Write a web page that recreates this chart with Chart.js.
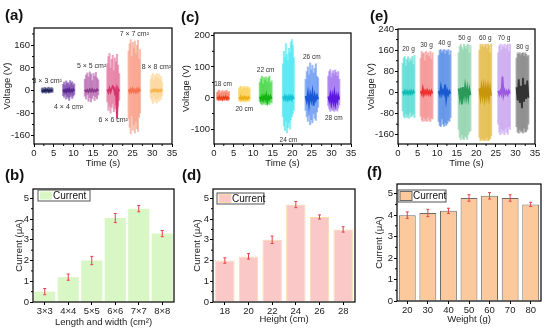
<!DOCTYPE html>
<html>
<head>
<meta charset="utf-8">
<script src="https://cdn.jsdelivr.net/npm/chart.js@4.4.1/dist/chart.umd.min.js"></script>
<style>
  body { margin: 0; background: #fff; }
  #fig { position: relative; width: 550px; height: 332px; overflow: hidden; font-family: "Liberation Sans", Arial, sans-serif; }
  canvas { position: absolute; }
  .tag { position: absolute; font-weight: bold; font-size: 15px; line-height: 15px; color: #111; }
</style>
</head>
<body>
<div id="fig">
  <canvas id="pa"></canvas>
  <canvas id="pc"></canvas>
  <canvas id="pe"></canvas>
  <canvas id="pb"></canvas>
  <canvas id="pd"></canvas>
  <canvas id="pf"></canvas>
  <div class="tag" style="left:5px;top:7px">(a)</div>
  <div class="tag" style="left:181px;top:9px">(c)</div>
  <div class="tag" style="left:370px;top:8px">(e)</div>
  <div class="tag" style="left:5px;top:167px">(b)</div>
  <div class="tag" style="left:182px;top:167px">(d)</div>
  <div class="tag" style="left:367px;top:164px">(f)</div>
</div>
<script>
// ---- (a) voltage bursts vs. size ----
const sizeNames = ['3 × 3 cm²', '4 × 4 cm²', '5 × 5 cm²', '6 × 6 cm²', '7 × 7 cm²', '8 × 8 cm²'];
const sizeStart = [2.0, 7.4, 12.9, 18.6, 24.0, 29.6];
const sizeEnd = [4.7, 10.2, 16.3, 21.6, 26.9, 32.5];
const sizeHigh = [
  [8, 10, 6, 11, 9, 7, 10, 12, 8, 9, 11, 7],
  [22, 30, 18, 34, 25, 28, 20, 35, 26, 31, 19, 24],
  [40, 55, 62, 48, 66, 58, 35, 60, 50, 64, 45, 38],
  [95, 120, 131, 80, 110, 125, 70, 115, 100, 128, 90, 60],
  [140, 165, 180, 120, 170, 150, 175, 130, 160, 178, 110, 145],
  [40, 52, 61, 35, 55, 48, 60, 44, 58, 38, 50, 30]
];
const sizeLow = [
  [-6, -9, -5, -8, -10, -7, -6, -9, -8, -5, -7, -6],
  [-18, -24, -14, -30, -20, -26, -35, -22, -16, -28, -20, -15],
  [-20, -30, -15, -38, -25, -40, -28, -18, -35, -22, -30, -16],
  [-40, -70, -55, -80, -60, -45, -75, -65, -50, -80, -55, -35],
  [-100, -130, -153, -90, -140, -120, -150, -110, -135, -145, -95, -80],
  [-25, -35, -46, -20, -40, -30, -44, -28, -38, -22, -32, -18]
];
const sizeCore = [
  [2, -3, 1, -2, 3, -1, 2, -3, 1, -2, 2, -1],
  [3, -4, 2, -5, 4, -3, 5, -4, 2, -3, 4, -2],
  [3, -4, 2, -5, 4, -3, 5, -4, 2, -3, 4, -2],
  [4, -6, 8, -5, 6, 15, 10, -8, 5, -100, 6, -3],
  [4, -6, 5, -4, 6, -5, 3, -6, 5, -4, 6, -3],
  [3, -4, 2, -3, 4, -2, 3, -4, 2, -3, 3, -2]
];

// ---- (c) voltage bursts vs. height ----
const heightNames = ['18 cm', '20 cm', '22 cm', '24 cm', '26 cm', '28 cm'];
const heightStart = [0.8, 6.4, 11.7, 17.6, 23.4, 29.2];
const heightEnd = [3.8, 9.1, 14.7, 20.4, 26.6, 32.0];
const heightHigh = [
  [18, 22, 25, 15, 20, 24, 17, 23, 19, 25, 16, 21],
  [30, 35, 38, 28, 36, 32, 38, 30, 34, 37, 29, 33],
  [50, 62, 70, 45, 66, 58, 68, 52, 64, 70, 48, 55],
  [110, 150, 130, 175, 140, 120, 160, 145, 180, 188, 170, 130],
  [60, 85, 100, 75, 113, 90, 105, 80, 95, 110, 70, 65],
  [70, 85, 91, 65, 80, 88, 75, 90, 82, 70, 85, 60]
];
const heightLow = [
  [-6, -8, -9, -5, -7, -9, -6, -8, -5, -7, -9, -6],
  [-8, -11, -13, -7, -10, -12, -9, -13, -8, -11, -10, -7],
  [-12, -18, -22, -10, -20, -15, -22, -14, -19, -21, -13, -16],
  [-60, -90, -105, -75, -112, -95, -80, -100, -70, -60, -50, -40],
  [-40, -60, -75, -55, -86, -70, -80, -50, -65, -72, -45, -30],
  [-25, -35, -43, -30, -40, -38, -43, -28, -36, -42, -32, -22]
];
const heightCore = [
  [3, -2, 4, -3, 2, -4, 3, -2, 4, -3, 2, -3],
  [3, -3, 2, -4, 3, -2, 4, -3, 2, -3, 3, -2],
  [4, -6, 5, -8, 6, -4, 10, -12, 5, -4, 6, -3],
  [5, -4, 6, -5, 4, -6, 5, -4, 6, -5, 4, -3],
  [6, -10, 15, -20, 12, -8, 18, -25, 10, -6, 8, -4],
  [5, -8, 10, -15, 8, -12, 14, -18, 6, -10, 8, -5]
];

// ---- (e) voltage bursts vs. weight ----
const weightNames = ['20 g', '30 g', '40 g', '50 g', '60 g', '70 g', '80 g'];
const weightStart = [1.2, 5.8, 10.4, 15.5, 20.8, 25.6, 30.3];
const weightEnd = [4.2, 8.8, 13.4, 18.5, 23.8, 28.6, 33.3];
const weightHigh = [
  [110, 130, 136, 100, 125, 135, 115, 128, 120, 136, 105, 140],
  [130, 155, 145, 150, 120, 155, 140, 150, 135, 155, 125, 150],
  [140, 160, 162, 150, 158, 162, 145, 160, 155, 162, 140, 158],
  [150, 175, 183, 170, 160, 183, 175, 165, 180, 183, 150, 178],
  [160, 183, 175, 183, 170, 180, 183, 165, 183, 178, 150, 183],
  [150, 175, 183, 160, 180, 170, 183, 165, 178, 183, 155, 183],
  [130, 150, 145, 150, 140, 148, 150, 138, 150, 145, 135, 140]
];
const weightLow = [
  [-70, -90, -97, -80, -95, -85, -97, -75, -92, -88, -80, -95],
  [-90, -105, -110, -95, -108, -100, -110, -92, -105, -110, -98, -100],
  [-110, -125, -129, -100, -120, -128, -115, -125, -118, -105, -110, -95],
  [-140, -170, -179, -160, -175, -179, -165, -170, -178, -160, -150, -145],
  [-170, -183, -180, -175, -183, -178, -182, -170, -183, -180, -175, -165],
  [-120, -150, -160, -140, -155, -145, -160, -135, -150, -158, -130, -140],
  [-130, -150, -154, -140, -150, -145, -154, -135, -150, -148, -140, -120]
];
const weightCore = [
  [4, -5, 6, -4, 5, -6, 4, -5, 6, -4, 5, -3],
  [5, -6, 15, -8, 6, -5, 8, -6, 5, -7, 6, -4],
  [5, -8, 20, -6, 8, -5, 30, -25, 6, -8, 5, -4],
  [15, -20, 18, -45, 20, -15, 22, -18, 15, -20, 12, -10],
  [15, -18, 20, -15, 22, -20, 18, -15, 20, -18, 15, -12],
  [6, -8, 5, -6, 60, -10, 8, -6, 5, -8, 6, -4],
  [20, -30, 50, -40, 25, -60, 55, -35, 30, -25, 45, -20]
];

// ---- (b) (d) (f) current bars ----
const lengthCats = ['3×3', '4×4', '5×5', '6×6', '7×7', '8×8'];
const lengthCurrent = [0.5, 1.2, 2.0, 4.05, 4.5, 3.3];
const lengthErr = [0.15, 0.15, 0.2, 0.22, 0.15, 0.15];

const heightCats = ['18', '20', '22', '24', '26', '28'];
const heightCurrent = [2.0, 2.2, 3.0, 4.7, 4.1, 3.5];
const heightErr = [0.13, 0.13, 0.18, 0.15, 0.1, 0.13];

const weightCats = ['20', '30', '40', '50', '60', '70', '80'];
const weightCurrent = [4.0, 4.1, 4.2, 4.8, 4.9, 4.8, 4.5];
const weightErr = [0.15, 0.17, 0.12, 0.15, 0.15, 0.15, 0.1];

// ---- styles ----
const FONT = '"Liberation Sans", Arial, sans-serif';
Chart.defaults.font.family = FONT;
Chart.defaults.font.size = 9.5;
Chart.defaults.color = '#222';
Chart.defaults.animation = false;
Chart.defaults.responsive = false;
Chart.defaults.events = [];

const sizeSpike = ['#4a4a86', '#7c46ad', '#b462ad', '#e2749c', '#f89c84', '#fcd594'];
const sizeDark = ['#24245c', '#56278c', '#8c3a8a', '#d6336c', '#f5734e', '#f6b64c'];
const sizeSide = ['up', 'down', 'up', 'down', 'up', 'up'];
const heightSpike = ['#f4775a', '#f9d155', '#3cd63c', '#48e6f2', '#6294f2', '#9e70f0'];
const heightDark = ['#e8401a', '#eeb01a', '#14b414', '#14c4d6', '#1a58d6', '#5a18e0'];
const heightSide = ['up', 'down', 'up', 'down', 'up', 'down'];
const weightSpike = ['#50dad2', '#f48c8c', '#5289e6', '#8cd2aa', '#e2b842', '#c7a2f0', '#808080'];
const weightDark = ['#10bcb4', '#ee3030', '#1a5ad0', '#2a9a5a', '#c8960a', '#9a5ae0', '#333333'];

function place(id, box) {
  const c = document.getElementById(id);
  c.width = box.w; c.height = box.h;
  c.style.left = box.x + 'px'; c.style.top = box.y + 'px';
  c.style.width = box.w + 'px'; c.style.height = box.h + 'px';
  return c;
}

const tickGrid = { drawOnChartArea: false, drawTicks: true, tickLength: 3, tickColor: '#000', tickWidth: 1, color: '#000', offset: false };

function yAxis(min, max, step, yW, text, pad) {
  return {
    type: 'linear', min: min, max: max,
    afterFit: s => { s.width = yW; },
    border: { display: false },
    grid: tickGrid,
    ticks: { stepSize: step, includeBounds: false, padding: 1 },
    title: { display: true, text: text, padding: { top: pad, bottom: 0 } }
  };
}

function timeAxis(xH, pad) {
  return {
    type: 'linear', min: 0, max: 35, offset: false,
    afterFit: s => { s.height = xH; },
    border: { display: false },
    grid: tickGrid,
    ticks: { stepSize: 5, padding: 1, maxRotation: 0, autoSkip: false, includeBounds: false },
    title: { display: true, text: 'Time (s)', padding: { top: 0, bottom: pad } }
  };
}

// black frame around the plot, plus minor ticks on linear axes
const frame = {
  id: 'frame',
  afterDraw(chart) {
    const { ctx, chartArea: a } = chart;
    ctx.save();
    ctx.strokeStyle = '#000';
    ctx.lineWidth = 1.2;
    ctx.strokeRect(a.left, a.top, a.right - a.left, a.bottom - a.top);
    ctx.lineWidth = 1;
    ctx.beginPath();
    Object.values(chart.scales).forEach(s => {
      if (s.type !== 'linear' || s.ticks.length < 2) return;
      const step = s.ticks[1].value - s.ticks[0].value;
      for (let v = s.ticks[0].value - step / 2; v <= s.max; v += step) {
        if (v < s.min) continue;
        const p = s.getPixelForValue(v);
        if (s.axis === 'x') { ctx.moveTo(p, a.bottom); ctx.lineTo(p, a.bottom + 2); }
        else { ctx.moveTo(a.left - 2, p); ctx.lineTo(a.left, p); }
      }
    });
    ctx.stroke();
    ctx.restore();
  }
};

function burstData(start, end, high, low, core, spike, dark) {
  const sets = [];
  high.forEach((hi, k) => {
    const n = hi.length;
    const tx = i => start[k] + (end[k] - start[k]) * i / (n - 1);
    sets.push({
      type: 'line', order: 0,
      data: core[k].map((v, i) => ({ x: tx(i), y: v })),
      borderColor: dark[k], borderWidth: 1.8, pointRadius: 0, tension: 0
    });
    sets.push({
      type: 'bar', order: 1, grouped: false, barThickness: 1.4,
      data: hi.map((h, i) => ({ x: tx(i), y: [low[k][i], h] })),
      backgroundColor: spike[k] + 'a8', borderWidth: 0
    });
  });
  return sets;
}

function burstLabels(names, start, end, high, low, side, size) {
  return {
    id: 'burstLabels',
    afterDatasetsDraw(chart) {
      const { ctx } = chart;
      const x = chart.scales.x, y = chart.scales.y;
      ctx.save();
      ctx.font = size + 'px ' + FONT;
      ctx.fillStyle = '#333';
      ctx.textAlign = 'center';
      ctx.textBaseline = 'middle';
      names.forEach((n, k) => {
        const px = x.getPixelForValue((start[k] + end[k]) / 2);
        const py = side[k] === 'up'
          ? y.getPixelForValue(Math.max(...high[k])) - 6
          : y.getPixelForValue(Math.min(...low[k])) + 7;
        ctx.fillText(n, px, py);
      });
      ctx.restore();
    }
  };
}

function voltageChart(id, box, area, xH, titles, yCfg, set, labelSize) {
  const c = place(id, box);
  new Chart(c, {
    type: 'bar',
    data: { datasets: burstData(set.start, set.end, set.high, set.low, set.core, set.spike, set.dark) },
    options: {
      layout: { padding: { left: 0, top: area.t - box.y, right: box.x + box.w - area.r, bottom: 0 } },
      plugins: { legend: { display: false }, tooltip: { enabled: false } },
      scales: {
        x: timeAxis(xH, titles.x),
        y: yAxis(yCfg.min, yCfg.max, yCfg.step, area.l - box.x, 'Voltage (V)', titles.y)
      }
    },
    plugins: [frame, burstLabels(set.names, set.start, set.end, set.high, set.low, set.side, labelSize)]
  });
}

function errorBars(err) {
  return {
    id: 'errorBars',
    afterDatasetsDraw(chart) {
      const { ctx } = chart;
      const y = chart.scales.y;
      const vals = chart.data.datasets[0].data;
      ctx.save();
      ctx.strokeStyle = '#e8404a';
      ctx.lineWidth = 1;
      ctx.beginPath();
      chart.getDatasetMeta(0).data.forEach((bar, i) => {
        const t = y.getPixelForValue(vals[i] + err[i]);
        const b = y.getPixelForValue(vals[i] - err[i]);
        ctx.moveTo(bar.x, t); ctx.lineTo(bar.x, b);
        ctx.moveTo(bar.x - 1.5, t); ctx.lineTo(bar.x + 1.5, t);
        ctx.moveTo(bar.x - 1.5, b); ctx.lineTo(bar.x + 1.5, b);
      });
      ctx.stroke();
      ctx.restore();
    }
  };
}

function boxLegend(lg, fill, stroke) {
  return {
    id: 'boxLegend',
    afterDraw(chart) {
      const { ctx, chartArea: a } = chart;
      const x0 = a.left + lg.dx, y0 = a.top + lg.dy;
      ctx.save();
      ctx.fillStyle = '#fff';
      ctx.fillRect(x0, y0, lg.w, lg.h);
      ctx.strokeStyle = '#555';
      ctx.lineWidth = 1;
      ctx.strokeRect(x0, y0, lg.w, lg.h);
      ctx.fillStyle = fill;
      ctx.fillRect(x0 + 2, y0 + 1.5, 12, lg.h - 3);
      if (stroke) { ctx.strokeStyle = stroke; ctx.strokeRect(x0 + 2, y0 + 1.5, 12, lg.h - 3); }
      ctx.fillStyle = '#111';
      ctx.font = '10px ' + FONT;
      ctx.textBaseline = 'middle';
      ctx.fillText('Current', x0 + 15, y0 + lg.h / 2 + 0.5);
      ctx.restore();
    }
  };
}

function currentChart(id, box, area, xH, titles, cats, vals, err, look) {
  const c = place(id, box);
  new Chart(c, {
    type: 'bar',
    data: {
      labels: cats,
      datasets: [{
        data: vals, backgroundColor: look.fill,
        borderColor: look.stroke || look.fill, borderWidth: look.stroke ? 1 : 0,
        barPercentage: look.bar, categoryPercentage: 1
      }]
    },
    options: {
      layout: { padding: { left: 0, top: area.t - box.y, right: box.x + box.w - area.r, bottom: 0 } },
      plugins: { legend: { display: false }, tooltip: { enabled: false } },
      scales: {
        x: {
          afterFit: s => { s.height = xH; },
          border: { display: false },
          grid: tickGrid,
          ticks: { padding: 1, maxRotation: 0, autoSkip: false },
          title: { display: true, text: titles.text, padding: { top: 0, bottom: titles.x } }
        },
        y: yAxis(0, 5.45, 1, area.l - box.x, 'Current (μA)', titles.y)
      }
    },
    plugins: [frame, errorBars(err), boxLegend(look.legend, look.fill, look.stroke)]
  });
}

voltageChart('pa', { x: 0, y: 0, w: 180, h: 170 }, { l: 34, t: 28, r: 172, b: 144 }, 26, { x: 0.6, y: 1.3 },
  { min: -189, max: 221, step: 80 },
  { names: sizeNames, start: sizeStart, end: sizeEnd, high: sizeHigh, low: sizeLow, core: sizeCore,
    spike: sizeSpike, dark: sizeDark, side: sizeSide }, 7);

voltageChart('pc', { x: 180, y: 0, w: 184, h: 170 }, { l: 214, t: 33, r: 351, b: 144 }, 26, { x: 0.6, y: 0.3 },
  { min: -148, max: 209, step: 100 },
  { names: heightNames, start: heightStart, end: heightEnd, high: heightHigh, low: heightLow, core: heightCore,
    spike: heightSpike, dark: heightDark, side: heightSide }, 6.5);

voltageChart('pe', { x: 364, y: 0, w: 186, h: 170 }, { l: 398, t: 29, r: 535, b: 144 }, 26, { x: 0.6, y: 1.3 },
  { min: -195, max: 240, step: 80 },
  { names: weightNames, start: weightStart, end: weightEnd, high: weightHigh, low: weightLow, core: weightCore,
    spike: weightSpike, dark: weightDark, side: weightNames.map(() => 'up') }, 6.5);

currentChart('pb', { x: 0, y: 160, w: 180, h: 172 }, { l: 33, t: 189, r: 174, b: 302 }, 30,
  { text: 'Length and width (cm²)', x: 4.3, y: 13.3 }, lengthCats, lengthCurrent, lengthErr,
  { fill: '#d9f7c5', stroke: null, bar: 0.9, legend: { dx: 5, dy: 1, w: 52, h: 11 } });

currentChart('pd', { x: 180, y: 160, w: 184, h: 172 }, { l: 213, t: 189, r: 355, b: 302 }, 30,
  { text: 'Height (cm)', x: 7.3, y: 11.3 }, heightCats, heightCurrent, heightErr,
  { fill: '#fbc8c8', stroke: '#fcd9a8', bar: 0.82, legend: { dx: 4, dy: 4, w: 47, h: 11 } });

currentChart('pf', { x: 364, y: 160, w: 186, h: 172 }, { l: 397, t: 184, r: 541, b: 301 }, 31,
  { text: 'Weight (g)', x: 7.3, y: 9.8 }, weightCats, weightCurrent, weightErr,
  { fill: '#fcc99c', stroke: '#6b6b6b', bar: 0.82, legend: { dx: 1, dy: 6, w: 48, h: 12 } });
</script>
</body>
</html>
